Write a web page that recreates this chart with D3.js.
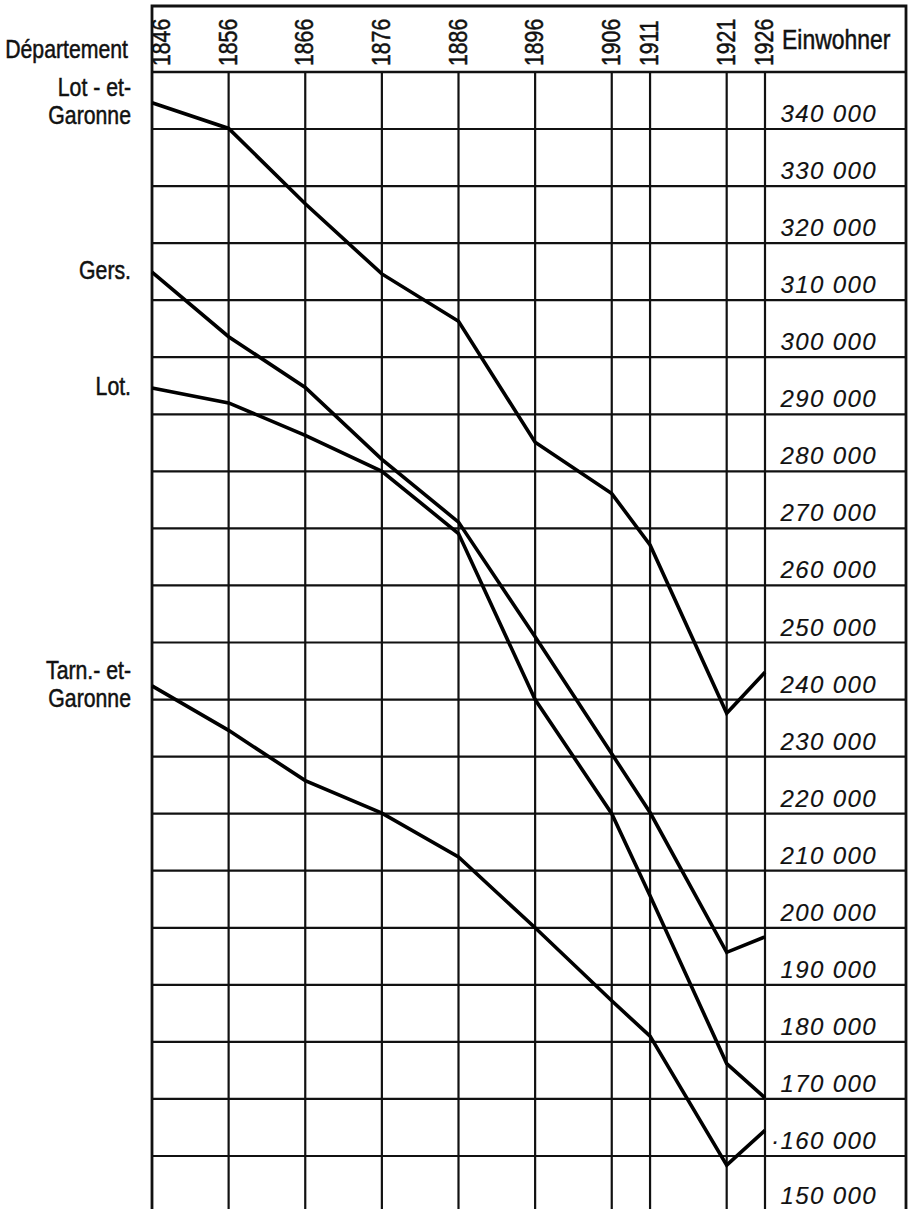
<!DOCTYPE html>
<meta charset="utf-8">
<script src="https://d3js.org/d3.v7.min.js"></script>
<style>
    body {
        margin: 0;
        background: #fff;
    }

    text {
        font-family: "Liberation Sans", Arial, sans-serif;
        fill: #111;
        stroke: #111;
        stroke-width: 0.5;
    }

    .einw {
        font-style: italic;
        letter-spacing: 1.4px;
        stroke-width: 0.15;
    }
</style>
<div id="chart"></div>

<script>
    // Census years (columns)
    var years = [1846, 1856, 1866, 1876, 1886, 1896, 1906, 1911, 1921, 1926];

    // inhabitants per département
    var lotEtGaronne = [344600, 340100, 326900, 314600, 306300, 285100, 276100, 267100, 237600, 244800];
    var gers = [314900, 303600, 294700, 282100, 271100, 251000, 230500, 220200, 195700, 198400];
    var lot = [294600, 292000, 286300, 280000, 269100, 240000, 220000, 205600, 176200, 170200];
    var tarnEtGaronne = [242400, 234600, 225800, 220100, 212400, 200000, 187200, 181000, 158400, 164500];

    var names = [["Lot - et-", "Garonne"], ["Gers."], ["Lot."], ["Tarn.- et-", "Garonne"]];
    var series = [lotEtGaronne, gers, lot, tarnEtGaronne];

    // right hand scale
    var einwTicks = [340000, 330000, 320000, 310000, 300000, 290000, 280000, 270000, 260000, 250000,
        240000, 230000, 220000, 210000, 200000, 190000, 180000, 170000, 160000, 150000];
    var einwLabels = ["340 000", "330 000", "320 000", "310 000", "300 000", "290 000", "280 000", "270 000",
        "260 000", "250 000", "240 000", "230 000", "220 000", "210 000", "200 000", "190 000", "180 000",
        "170 000", "\u00b7160 000", "150 000"];

    var width = 911,
        height = 1209;
    var frame = { left: 152, right: 906, top: 6, header: 72 };
    var narrow = 0.85; // the lettering is condensed

    var svg = d3.select("#chart")
        .append("svg")
        .attr("width", width)
        .attr("height", height);

    var x = d3.scaleLinear()
        .domain([1846, 1926])
        .range([152, 765]);

    var y = d3.scaleLinear()
        .domain([340000, 160000])
        .range([129, 1156]);

    // horizontal grid
    svg.append("g")
        .selectAll("line")
        .data(einwTicks)
        .enter()
        .append("line")
        .attr("x1", frame.left)
        .attr("x2", frame.right)
        .attr("y1", function (d) { return y(d); })
        .attr("y2", function (d) { return y(d); })
        .attr("stroke", "#111")
        .attr("stroke-width", 2.2);

    // year lines
    svg.append("g")
        .selectAll("line")
        .data(years.slice(1))
        .enter()
        .append("line")
        .attr("x1", function (d) { return x(d); })
        .attr("x2", function (d) { return x(d); })
        .attr("y1", frame.header)
        .attr("y2", height)
        .attr("stroke", "#111")
        .attr("stroke-width", 2.2);

    // frame + header rule
    svg.append("path")
        .attr("d", "M" + frame.left + "," + height + "V" + frame.top + "H" + frame.right + "V" + height)
        .attr("fill", "none")
        .attr("stroke", "#111")
        .attr("stroke-width", 2.8);

    svg.append("line")
        .attr("x1", frame.left)
        .attr("x2", frame.right)
        .attr("y1", frame.header)
        .attr("y2", frame.header)
        .attr("stroke", "#111")
        .attr("stroke-width", 2.4);

    function label(tx, ty, size, anchor, str) {
        return svg.append("text")
            .attr("transform", "translate(" + tx + "," + ty + ")scale(" + narrow + ",1)")
            .attr("text-anchor", anchor)
            .style("font-size", size + "px")
            .text(str);
    }

    // header texts
    label(128, 58, 25, "end", "Département");
    label(782, 49, 27, "start", "Einwohner");

    svg.append("g")
        .selectAll("text")
        .data(years)
        .enter()
        .append("text")
        .attr("transform", function (d, i) {
            var off = i === 0 ? 18 : 8;
            return "translate(" + (x(d) + off) + ",66)rotate(-90)scale(" + narrow + ",1)";
        })
        .style("font-size", "25px")
        .text(function (d) { return d; });

    // population lines
    var line = d3.line()
        .x(function (d, i) { return x(years[i]); })
        .y(function (d) { return y(d); });

    svg.append("g")
        .selectAll("path")
        .data(series)
        .enter()
        .append("path")
        .attr("d", line)
        .attr("fill", "none")
        .attr("stroke", "#000")
        .attr("stroke-width", 3.6)
        .attr("stroke-linejoin", "miter");

    // département names on the left
    names.forEach(function (nm, k) {
        var y0 = y(series[k][0]);
        nm.forEach(function (t, j) {
            var yy = nm.length === 1 ? y0 + 7 : y0 - 7 + j * 28;
            label(131, yy, 25, "end", t);
        });
    });

    // right hand figures
    svg.append("g")
        .selectAll("text")
        .data(einwTicks)
        .enter()
        .append("text")
        .attr("class", "einw")
        .attr("x", 877)
        .attr("y", function (d) { return Math.min(y(d) - 7, 1204); })
        .attr("text-anchor", "end")
        .style("font-size", "24px")
        .text(function (d, i) { return einwLabels[i]; });
</script>
